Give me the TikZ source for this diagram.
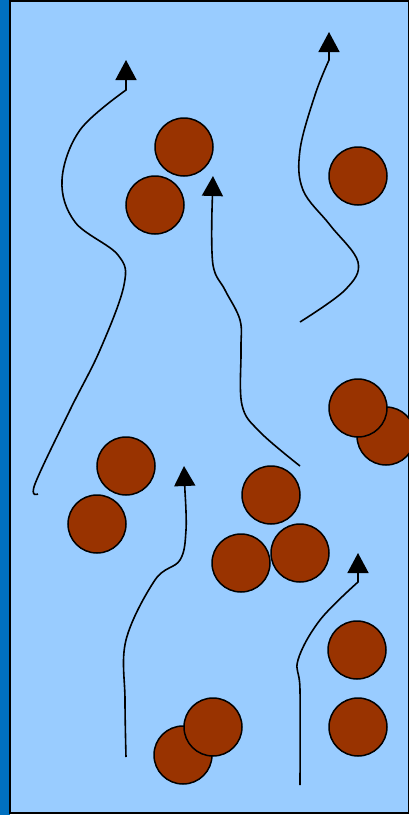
\documentclass[tikz,border=0pt]{standalone}
\usetikzlibrary{arrows.meta}
\definecolor{strip}{HTML}{0070C0}
\definecolor{water}{HTML}{99CCFF}
\definecolor{grain}{HTML}{993300}
\tikzset{
  particle/.style={fill=grain,draw=black,line width=1.5pt},
  path line/.style={line width=1.6pt,-{Triangle[length=20pt,width=21pt]}}
}
\begin{document}
\begin{tikzpicture}[x=1pt,y=-1pt]
      \useasboundingbox (0,0) rectangle (408,815);
      \fill[strip] (0,0) rectangle (10,815);
      \draw[fill=water,line width=1.5pt] (10,1) rectangle (409,813);
      % particles, back ones first
      \foreach \point in {(184,147),(155,205),(358,176),(386,436),(358,408),
                           (126,466),(97,524),(271,495),(241,563),(300,553),
                           (357,650),(358,727),(183,755),(213,727)}
        \draw[particle] \point circle (29);
      % paths of the moving particles
      \draw[path line] plot[smooth,tension=0.6] coordinates
        {(38,494) (35,484) (70,410) (100,350) (124,285) (118,255) (75,222) (62,180) (80,130) (126,90)}
        -- (126,60);
      \draw[path line] plot[smooth,tension=0.6] coordinates
        {(300,322) (345,290) (358,262) (330,225) (303,190) (300,150) (315,95) (329,60)}
        -- (329,32);
      \draw[path line] plot[smooth,tension=0.6] coordinates
        {(300,466) (260,432) (242,405) (241,350) (240,320) (225,290) (213,265) (212,210)}
        -- (213,176);
      \draw[path line] plot[smooth,tension=0.6] coordinates
        {(126,757) (125,700) (126,640) (155,580) (180,560) (186,530) (185,492)}
        -- (184,466);
      \draw[path line] plot[smooth,tension=0.6] coordinates
        {(300,785) (300,690) (298,660) (320,620) (358,582)}
        -- (358,553);
    \end{tikzpicture}
\end{document}
